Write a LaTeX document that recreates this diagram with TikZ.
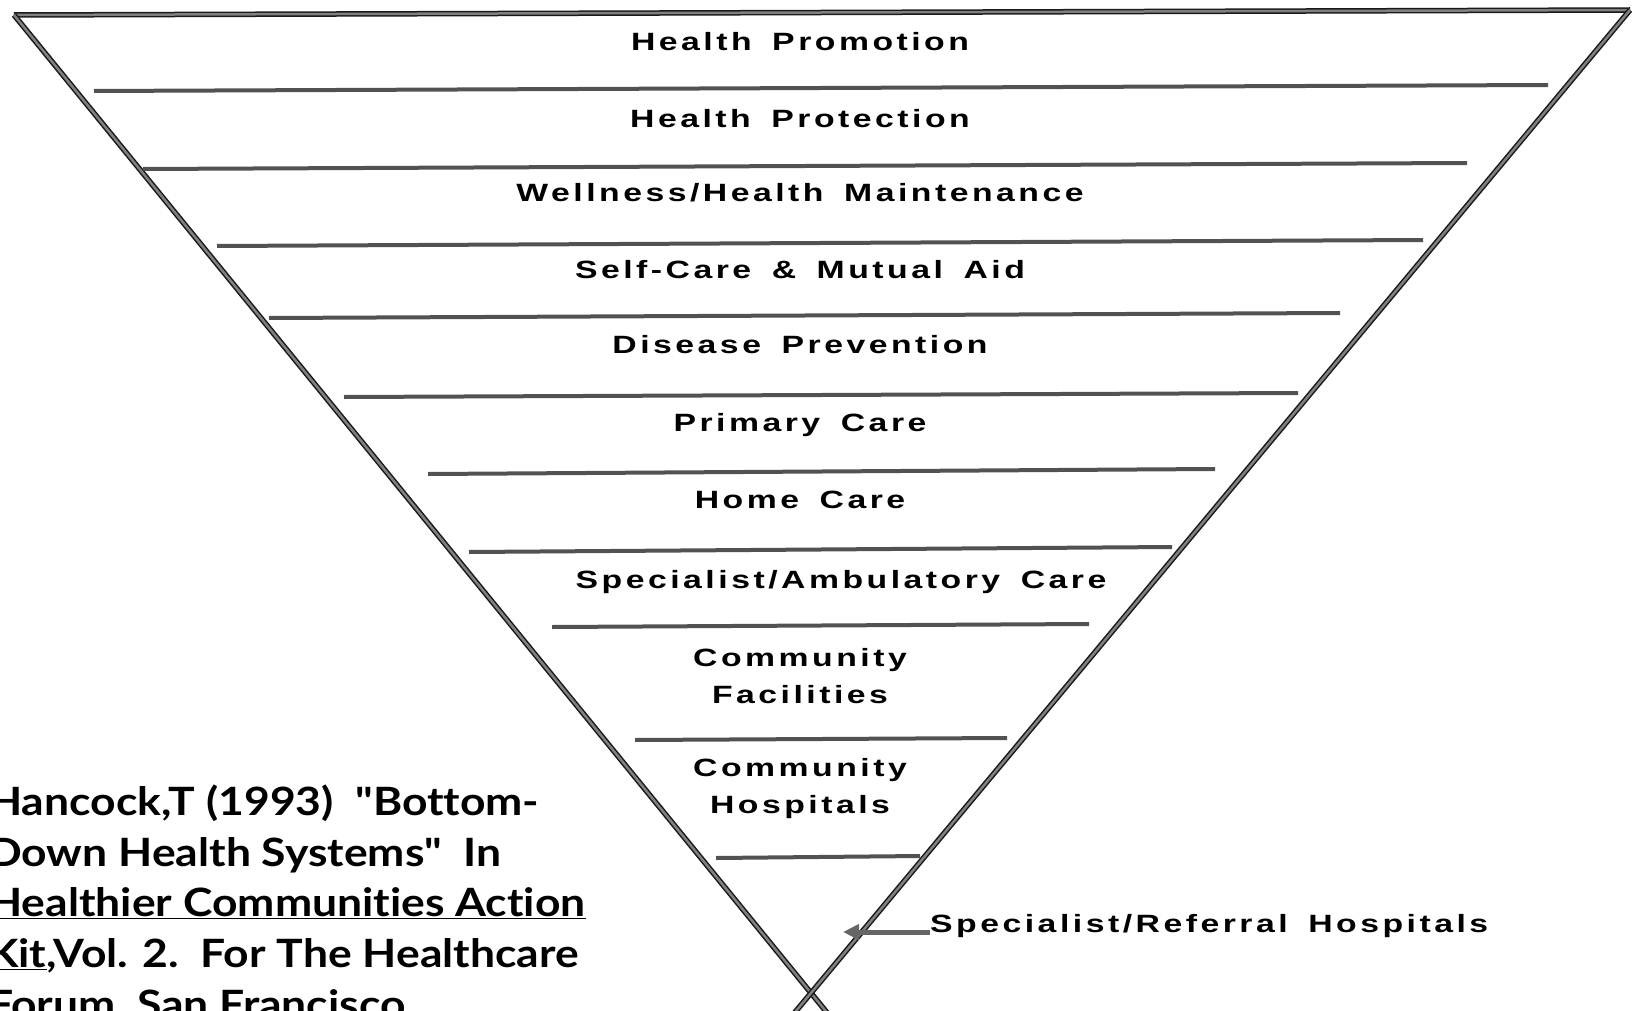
\documentclass[tikz,border=0pt]{standalone}
\usepackage{fontspec}
\usetikzlibrary{arrows.meta,calc}
\newfontfamily\tierfont{Liberation Sans}[LetterSpace=14,WordSpace=1.6,FakeStretch=1.35]
\newfontfamily\citefont{Lato}[FakeStretch=1.14,Ligatures={NoCommon,NoContextual,NoRare}]
\begin{document}
\begin{tikzpicture}[
			x=1pt, y=-1pt,
			rim/.style = {draw=black!90, double=gray, double distance=2.5pt, line width=1.5pt},
			tier/.style = {draw=black!68, line width=4pt},
			lvl/.style = {font=\tierfont\bfseries\fontsize{25}{37}\selectfont, align=center, inner sep=0pt},
			cite/.style = {font=\citefont\bfseries\fontsize{39}{52}\selectfont, anchor=base west, inner sep=0pt},
			pointer/.style = {draw=black!60, line width=5pt, -{Triangle[length=16pt,width=15pt]}},
			]
			\useasboundingbox (0,0) rectangle (1635,1011);
			% funnel
			\coordinate (tl) at (14,15);
			\coordinate (tr) at (1630,10);
			\coordinate (apex) at (811,993);
			\draw[rim] (tl) -- (tr);
			\draw[rim] (tl) -- ($(tl)!1.023!(apex)$);
			\draw[rim] (tr) -- ($(tr)!1.023!(apex)$);
			% tiers
			\foreach \xl/\yl/\xr/\yr in {94/91/1548/85, 143/169/1467/163, 217/246/1423/240,
				269/318/1340/313, 344/397/1298/393, 428/474/1215/469, 469/552/1172/547,
				552/627/1089/624, 635/740/1007/738, 716/858/920/856}
				\draw[tier] (\xl,\yl) -- (\xr,\yr);
			\node[lvl, anchor=base] (promo) at (800,51) {Health Promotion};
			\node[lvl, anchor=base] (protec) at (800,128) {Health Protection};
			\node[lvl, anchor=base] (well) at (800,201) {Wellness/Health Maintenance};
			\node[lvl, anchor=base] (self) at (800,278) {Self-Care \& Mutual Aid};
			\node[lvl, anchor=base] (prev) at (800,353) {Disease Prevention};
			\node[lvl, anchor=base] (prim) at (800,431) {Primary Care};
			\node[lvl, anchor=base] (home) at (800,508) {Home Care};
			\node[lvl, anchor=base] (amb) at (841,588) {Specialist/Ambulatory Care};
			\node[lvl] (fac) at (800,676) {Community\\Facilities};
			\node[lvl] (hosp) at (800,789) {Community\\Hospitals};
			\node[lvl, anchor=base west] (refl) at (930,932) {Specialist/Referral Hospitals};
			\coordinate (tip) at (843,932);
			\draw[pointer] (refl.base west) -- (tip);
			% citation
			\node[cite] (c1) at (-12,815) {Hancock,T (1993)\ \ "Bottom-};
			\node[cite] (c2) at (-12,866) {Down Health Systems"\ \ In};
			\node[cite] (c3) at (-12,916) {\underline{Healthier Communities Action}};
			\node[cite] (c4) at (-12,967) {\underline{Kit},Vol. 2.\ \ For The Healthcare};
			\node[cite] (c5) at (-12,1018) {Forum, San Francisco};
		\end{tikzpicture}
\end{document}
